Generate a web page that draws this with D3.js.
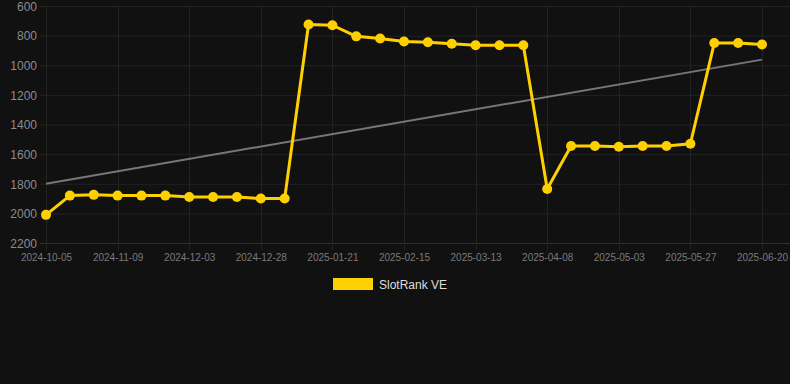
<!DOCTYPE html>
<html>
<head>
<meta charset="utf-8">
<script src="https://cdn.jsdelivr.net/npm/d3@7"></script>
<style>
  body { margin: 0; background: #111111; }
  svg { display: block; font-family: Arial, "Liberation Sans", sans-serif; }
</style>
</head>
<body>
<div id="chart"></div>
<script>
// rank values, one per snapshot (lower is better, axis is reversed)
var rankValues = [
  2010, 1880, 1875, 1880, 1880, 1880, 1890, 1890, 1890, 1900, 1900,
  725, 730, 805, 820, 840, 845, 855, 865, 865, 865,
  1835, 1545, 1545, 1550, 1545, 1545, 1530, 850, 850, 860
];
// labels shown on the x axis, every third snapshot
var tickLabels = [
  "2024-10-05", "2024-11-09", "2024-12-03", "2024-12-28", "2025-01-21",
  "2025-02-15", "2025-03-13", "2025-04-08", "2025-05-03", "2025-05-27", "2025-06-20"
];
var yTicks = [600, 800, 1000, 1200, 1400, 1600, 1800, 2000, 2200];
// trend line, start and end values
var trendValues = [1800, 962];
var seriesName = "SlotRank VE";

var width = 790, height = 384;
var plot = { left: 40, right: 790, top: 6, bottom: 243 };

var svg = d3.select("#chart").append("svg").attr("width", width).attr("height", height);
svg.append("rect").attr("width", width).attr("height", height).attr("fill", "#111111");

var idx = d3.range(rankValues.length);
var x = d3.scalePoint().domain(idx).range([46, 762]);
var y = d3.scaleLinear().domain([600, 2200]).range([plot.top, plot.bottom]);

// horizontal grid
svg.append("g")
  .selectAll("line")
  .data(yTicks)
  .enter()
  .append("line")
  .attr("x1", plot.left)
  .attr("x2", plot.right)
  .attr("y1", function (d) { return y(d) + 0.5; })
  .attr("y2", function (d) { return y(d) + 0.5; })
  .attr("stroke", function (d) { return d === 2200 ? "#2e2e2e" : "#222222"; })
  .attr("stroke-width", 1);

// vertical grid at the labelled ticks
var tickIdx = idx.filter(function (i) { return i % 3 === 0; });
svg.append("g")
  .selectAll("line")
  .data(tickIdx)
  .enter()
  .append("line")
  .attr("x1", function (d) { return Math.round(x(d)) + 0.5; })
  .attr("x2", function (d) { return Math.round(x(d)) + 0.5; })
  .attr("y1", plot.top)
  .attr("y2", plot.bottom + 7)
  .attr("stroke", "#222222");

// y axis labels
var yAxis = d3.axisLeft(y).tickValues(yTicks).tickSize(0).tickPadding(0).tickFormat(d3.format("d"));
var gY = svg.append("g").attr("transform", "translate(37,0)").call(yAxis);
gY.select(".domain").remove();
gY.selectAll("text").attr("fill", "#8c8c8c").style("font-size", "12px").attr("dy", "0.36em");

// x axis labels
var xAxis = d3.axisBottom(x).tickValues(tickIdx).tickSize(0).tickPadding(0)
  .tickFormat(function (d) { return tickLabels[d / 3]; });
var gX = svg.append("g").attr("transform", "translate(0,254)").call(xAxis);
gX.select(".domain").remove();
gX.selectAll("text").attr("fill", "#7a7a7a").style("font-size", "10px");

// trend line
svg.append("line")
  .attr("x1", x(0))
  .attr("x2", x(idx.length - 1))
  .attr("y1", y(trendValues[0]))
  .attr("y2", y(trendValues[1]))
  .attr("stroke", "#777777")
  .attr("stroke-width", 2);

// series line
var line = d3.line()
  .x(function (d, i) { return x(i); })
  .y(function (d) { return y(d); });
svg.append("path")
  .datum(rankValues)
  .attr("d", line)
  .attr("fill", "none")
  .attr("stroke", "#ffd000")
  .attr("stroke-width", 3)
  .attr("stroke-linejoin", "round");

svg.append("g")
  .selectAll("circle")
  .data(rankValues)
  .enter()
  .append("circle")
  .attr("cx", function (d, i) { return x(i); })
  .attr("cy", function (d) { return y(d); })
  .attr("r", 5)
  .attr("fill", "#ffd000");

// legend
svg.append("rect")
  .attr("x", 333).attr("y", 278).attr("width", 40).attr("height", 12)
  .attr("fill", "#ffd000");
svg.append("text")
  .attr("x", 379).attr("y", 289)
  .attr("fill", "#dddddd")
  .style("font-size", "12px")
  .text(seriesName);
</script>
</body>
</html>
